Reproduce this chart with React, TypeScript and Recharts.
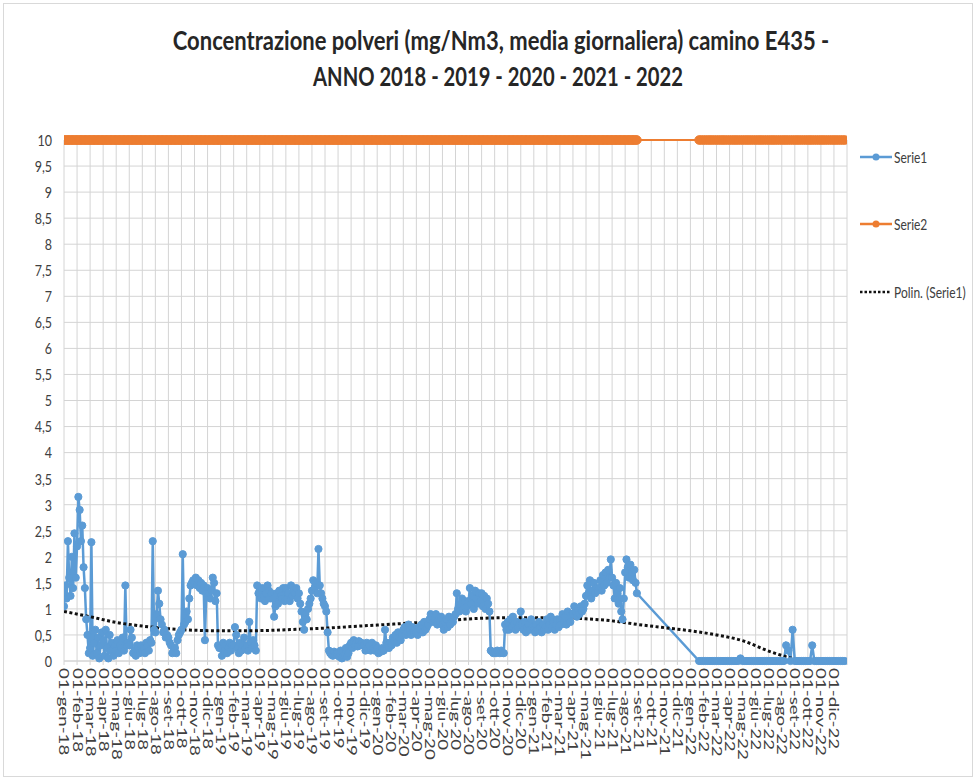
import React from 'react';
import { LineChart, Line, XAxis, YAxis, CartesianGrid } from 'recharts';

// ---------- DATA ----------
const monthNames = ['gen', 'feb', 'mar', 'apr', 'mag', 'giu', 'lug', 'ago', 'set', 'ott', 'nov', 'dic'];
const yearSuffixes = ['18', '19', '20', '21', '22'];
const monthLabels: string[] = yearSuffixes.flatMap((yy) => monthNames.map((m) => `01-${m}-${yy}`));

const yTicks = [0, 0.5, 1, 1.5, 2, 2.5, 3, 3.5, 4, 4.5, 5, 5.5, 6, 6.5, 7, 7.5, 8, 8.5, 9, 9.5, 10];

// Serie1 – daily concentration, sampled 10 times per month (gen-18 .. ago-21)
const SAMPLES_PER_MONTH = 10;
const serie1_2018 = [
  1.05, 1.45, 1.2, 2.3, 1.6, 1.25, 2.0, 1.4, 2.45, 1.6,
  2.2, 3.15, 2.9, 2.3, 2.6, 1.8, 1.4, 0.8, 0.5, 0.15,
  0.25, 2.28, 0.1, 0.35, 0.6, 0.15, 0.45, 0.05, 0.3, 0.55,
  0.4, 0.1, 0.6, 0.25, 0.05, 0.5, 0.2, 0.35, 0.1, 0.3,
  0.2, 0.4, 0.15, 0.3, 0.25, 0.45, 0.2, 1.45, 0.3, 0.35,
  0.3, 0.6, 0.45, 0.15, 0.2, 0.1, 0.3, 0.25, 0.15, 0.3,
  0.2, 0.25, 0.15, 0.35, 0.3, 0.2, 0.4, 0.35, 2.3, 0.6,
  0.55, 0.9, 1.35, 1.1, 0.8, 0.7, 0.55, 0.6, 0.45, 0.5,
  0.45, 0.35, 0.3, 0.15, 0.2, 0.25, 0.15, 0.4, 0.5, 0.55,
  0.6, 2.05, 0.7, 0.75, 0.95, 0.8, 1.2, 1.45, 1.5, 1.55,
  1.5, 1.6, 1.45, 1.55, 1.4, 1.5, 1.35, 1.45, 0.4, 1.3,
  1.4, 1.3, 1.2, 1.35, 1.6, 1.5, 1.15, 1.3, 0.3, 0.25,
];
const serie1_2019 = [
  0.25, 0.1, 0.35, 0.2, 0.3, 0.15, 0.25, 0.35, 0.2, 0.3,
  0.3, 0.65, 0.5, 0.25, 0.15, 0.35, 0.2, 0.3, 0.45, 0.25,
  0.3, 0.2, 0.75, 0.35, 0.25, 0.4, 0.3, 0.2, 1.45, 1.3,
  1.3, 1.2, 1.4, 1.25, 1.15, 1.3, 1.45, 1.35, 1.2, 1.3,
  1.2, 0.85, 1.05, 1.3, 1.1, 1.35, 1.25, 1.2, 1.4, 1.15,
  1.4, 1.2, 1.3, 1.15, 1.45, 1.25, 1.35, 1.3, 1.4, 1.2,
  1.3, 1.1, 0.95, 0.75, 0.6, 0.9, 0.8, 1.0, 1.1, 1.2,
  1.35, 1.55, 1.4, 1.5, 1.3, 2.15, 1.45, 1.3, 1.2, 1.1,
  1.05, 0.95, 0.55, 0.2, 0.15, 0.12, 0.1, 0.18, 0.12, 0.15,
  0.15, 0.08, 0.2, 0.05, 0.1, 0.12, 0.25, 0.08, 0.15, 0.3,
  0.35, 0.25, 0.4, 0.3, 0.35, 0.28, 0.38, 0.3, 0.35, 0.3,
  0.3, 0.2, 0.35, 0.25, 0.3, 0.2, 0.35, 0.25, 0.2, 0.3,
];
const serie1_2020 = [
  0.25, 0.15, 0.2, 0.18, 0.25, 0.2, 0.6, 0.35, 0.3, 0.25,
  0.35, 0.3, 0.45, 0.4, 0.5, 0.35, 0.55, 0.45, 0.4, 0.5,
  0.6, 0.65, 0.5, 0.55, 0.7, 0.6, 0.5, 0.65, 0.55, 0.6,
  0.55, 0.5, 0.65, 0.6, 0.7, 0.55, 0.75, 0.6, 0.65, 0.7,
  0.8, 0.9, 0.85, 0.75, 0.8, 0.9, 0.7, 0.8, 0.75, 0.85,
  0.7, 0.6, 0.75, 0.8, 0.65, 0.85, 0.7, 0.8, 0.75, 0.85,
  0.9, 1.3, 1.0, 0.95, 1.1, 1.2, 1.0, 1.15, 0.95, 1.05,
  1.15, 1.4, 1.1, 1.25, 1.0, 1.35, 1.2, 1.1, 1.3, 1.15,
  1.3, 1.05, 1.25, 1.0, 1.2, 1.1, 0.95, 0.2, 0.18, 0.15,
  0.18, 0.15, 0.2, 0.17, 0.15, 0.2, 0.16, 0.15, 0.7, 0.6,
  0.75, 0.6, 0.8, 0.65, 0.85, 0.7, 0.6, 0.75, 0.65, 0.7,
  0.95, 0.7, 0.6, 0.75, 0.55, 0.65, 0.7, 0.6, 0.8, 0.65,
];
const serie1_2021 = [
  0.6, 0.55, 0.7, 0.6, 0.75, 0.65, 0.55, 0.7, 0.6, 0.65,
  0.8, 0.6, 0.7, 0.85, 0.65, 0.75, 0.6, 0.7, 0.8, 0.65,
  0.8, 0.7, 0.9, 0.75, 0.85, 0.7, 0.95, 0.8, 0.75, 0.9,
  0.9, 1.05, 0.95, 0.85, 1.0, 0.9, 1.05, 0.95, 1.0, 1.1,
  1.25, 1.45, 1.3, 1.55, 1.2, 1.35, 1.5, 1.3, 1.4, 1.35,
  1.4, 1.55, 1.35, 1.65, 1.45, 1.7, 1.5, 1.75, 1.6, 1.95,
  1.6, 1.45, 1.2, 1.5, 1.3, 1.1, 1.4, 0.95, 0.8, 1.2,
  1.7, 1.95, 1.8, 1.6, 1.85, 1.7, 1.55, 1.75, 1.5, 1.3,
];
// Serie1 after the interruption (from late gen-22 to dic-22), 6 samples per month
const SAMPLES_2022 = 6;
const serie1_2022_startMonth = 48 + 4 / 6;
const serie1_2022 = [
  0, 0, 0, 0, 0, 0, 0, 0, 0, 0,
  0, 0, 0, 0, 0, 0, 0, 0, 0, 0.05,
  0, 0, 0, 0, 0, 0, 0, 0, 0, 0,
  0, 0, 0, 0, 0, 0, 0, 0, 0, 0,
  0.3, 0.2, 0, 0.6, 0, 0, 0, 0, 0, 0,
  0, 0, 0.3, 0, 0, 0, 0, 0, 0, 0,
  0, 0, 0, 0, 0, 0, 0, 0,
];

// Serie2 – emission limit
const LIMIT_VALUE = 10;

// Polynomial trendline of Serie1
const trendMonths = [0, 2, 4, 6, 8, 10, 12, 14, 16, 18, 20, 22, 24, 26, 28, 30, 32, 34, 36, 38, 40, 42, 44, 46, 48, 50, 52, 54, 56, 56.6];
const trendValues = [0.95, 0.85, 0.74, 0.67, 0.62, 0.59, 0.58, 0.58, 0.59, 0.61, 0.63, 0.66, 0.69, 0.72, 0.75, 0.79, 0.82, 0.83, 0.83, 0.83, 0.81, 0.77, 0.7, 0.64, 0.58, 0.5, 0.39, 0.19, 0.04, 0.01];

// ---------- BUILD ----------
const seg1Values = [...serie1_2018, ...serie1_2019, ...serie1_2020, ...serie1_2021];
const serie1Data = [
  ...seg1Values.map((v, i) => ({ x: i / SAMPLES_PER_MONTH, y: v })),
  ...serie1_2022.map((v, i) => ({ x: serie1_2022_startMonth + i / SAMPLES_2022, y: v })),
];
const serie2Data = serie1Data.map((d) => ({ x: d.x, y: LIMIT_VALUE }));
const trendData = trendMonths.map((m, i) => ({ x: m, y: trendValues[i] }));

const xTicks = Array.from({ length: monthLabels.length + 1 }, (_, i) => i);

const BLUE = '#5B9BD5';
const ORANGE = '#ED7D31';
const GRID = '#d4d4d4';
const TICK_COLOR = '#404040';
const FONT = 'Lato, "Open Sans", sans-serif';

const XTick = (props: any) => {
  const { x, y, payload } = props;
  const label = monthLabels[payload.value] ?? '';
  if (!label) return null;
  return (
    <text
      transform={`translate(${x},${y}) rotate(90) scale(1.5,1)`}
      dy="0.36em"
      textAnchor="start"
      fontSize={12.5}
      fontFamily={FONT}
      fill={TICK_COLOR}
    >
      {label}
    </text>
  );
};

const YTick = (props: any) => {
  const { x, y, payload } = props;
  return (
    <text
      transform={`translate(${x},${y}) scale(1,1.3)`}
      dy="0.36em"
      textAnchor="end"
      fontSize={12.5}
      fontFamily={FONT}
      fill={TICK_COLOR}
    >
      {String(payload.value).replace('.', ',')}
    </text>
  );
};

export default function App() {
  return (
    <div style={{ position: 'absolute', left: 0, top: 0, width: 976, height: 780, background: '#fff' }}>
      <LineChart
        width={976}
        height={780}
        margin={{ top: 140, right: 129, bottom: 9, left: 0 }}
      >
        <CartesianGrid stroke={GRID} strokeWidth={1} />
        <XAxis
          type="number"
          dataKey="x"
          domain={[0, 60]}
          ticks={xTicks}
          interval={0}
          height={110}
          tick={<XTick />}
          tickSize={4}
          tickMargin={3}
          tickLine={{ stroke: GRID }}
          axisLine={{ stroke: GRID }}
          allowDataOverflow
        />
        <YAxis
          type="number"
          domain={[0, 10]}
          ticks={yTicks}
          interval={0}
          width={64}
          axisLine={false}
          tickLine={false}
          tickMargin={6}
          tick={<YTick />}
        />
        <Line
          data={serie2Data}
          dataKey="y"
          type="linear"
          stroke={ORANGE}
          strokeWidth={2}
          dot={{ r: 4.3, fill: ORANGE, stroke: ORANGE, strokeWidth: 1 }}
          isAnimationActive={false}
        />
        <Line
          data={serie1Data}
          dataKey="y"
          type="linear"
          stroke={BLUE}
          strokeWidth={2.5}
          dot={{ r: 3.6, fill: BLUE, stroke: BLUE, strokeWidth: 1 }}
          isAnimationActive={false}
        />
        <Line
          data={trendData}
          dataKey="y"
          type="monotone"
          stroke="#111"
          strokeWidth={3}
          strokeDasharray="3 2.5"
          dot={false}
          isAnimationActive={false}
        />
      </LineChart>
      <svg
        width={976}
        height={780}
        style={{ position: 'absolute', left: 0, top: 0, pointerEvents: 'none' }}
      >
        <rect x={3.5} y={3.5} width={969} height={773} fill="none" stroke="#d9d9d9" />
        <text transform="translate(501,50) scale(1.1,1.3)" textAnchor="middle" fontSize={20} fontWeight="bold" fontFamily={FONT} fill="#262626">
          Concentrazione polveri (mg/Nm3, media giornaliera) camino E435 -
        </text>
        <text transform="translate(498,86) scale(1.01,1.3)" textAnchor="middle" fontSize={20} fontWeight="bold" fontFamily={FONT} fill="#262626">
          ANNO 2018 - 2019 - 2020 - 2021 - 2022
        </text>
        <line x1={860} y1={157} x2={892} y2={157} stroke={BLUE} strokeWidth={2.5} />
        <circle cx={876} cy={157} r={3.5} fill={BLUE} />
        <text transform="translate(894,157) scale(1,1.3)" dy="0.36em" fontSize={12} fontFamily={FONT} fill={TICK_COLOR}>Serie1</text>
        <line x1={860} y1={224} x2={892} y2={224} stroke={ORANGE} strokeWidth={2.5} />
        <circle cx={876} cy={224} r={3.5} fill={ORANGE} />
        <text transform="translate(894,224) scale(1,1.3)" dy="0.36em" fontSize={12} fontFamily={FONT} fill={TICK_COLOR}>Serie2</text>
        <line x1={860} y1={292} x2={891} y2={292} stroke="#111" strokeWidth={2.5} strokeDasharray="2.5 2" />
        <text transform="translate(894,292) scale(1,1.3)" dy="0.36em" fontSize={12} fontFamily={FONT} fill={TICK_COLOR}>Polin. (Serie1)</text>
      </svg>
    </div>
  );
}
